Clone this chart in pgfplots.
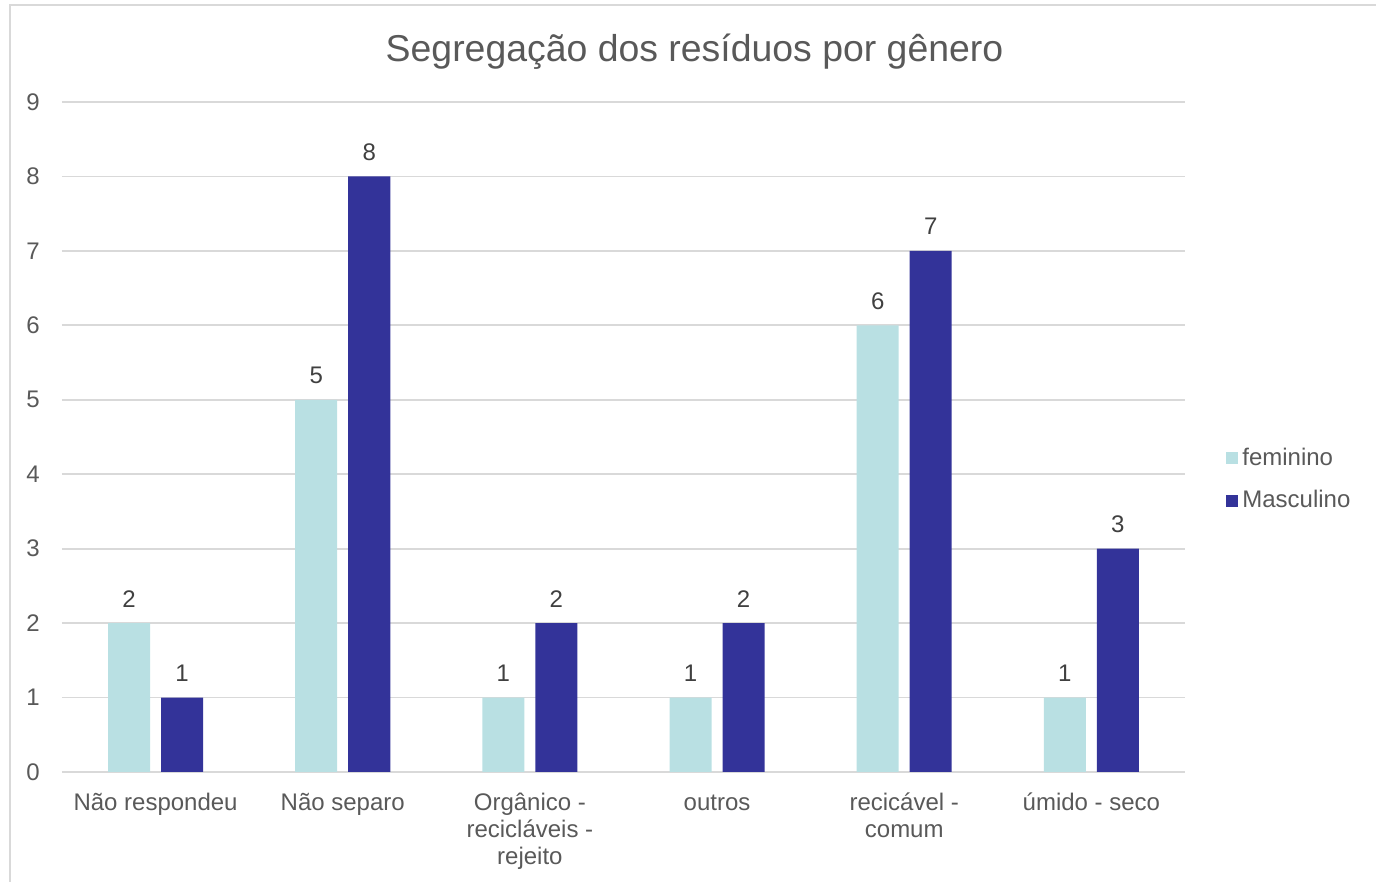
\documentclass[border=0pt]{standalone}
\usepackage{pgfplots}
\pgfplotsset{compat=1.18}
\usepackage{fontspec}
\setmainfont{Liberation Sans}
\definecolor{fem}{HTML}{B9E0E3}
\definecolor{mas}{HTML}{333399}
\definecolor{txt}{HTML}{595959}
\definecolor{lbl}{HTML}{404040}
\definecolor{grd}{HTML}{D9D9D9}
\begin{document}
\begin{tikzpicture}
\useasboundingbox (0pt,0pt) rectangle (688pt,441pt);
\draw[grd, line width=0.9pt] (5pt,-10pt) rectangle (700pt,438.5pt);
\node[anchor=base, text=txt, font=\fontsize{18.7}{22}\selectfont, inner sep=0pt] at (347.25pt,410pt) {Segregação dos resíduos por gênero};
\begin{axis}[
  at={(31pt,55pt)}, anchor=south west,
  scale only axis, width=561.5pt, height=335pt,
  ybar, bar width=21pt,
  xmin=-0.5, xmax=5.5, ymin=0, ymax=9,
  xtick={0,1,2,3,4,5},
  xticklabels={\strut Não respondeu, \strut Não separo, {\strut Orgânico -\\recicláveis -\\rejeito}, \strut outros, {\strut recicável -\\comum}, \strut úmido - seco},
  ytick={0,1,...,9},
  axis line style={draw=none},
  tick style={draw=none},
  ymajorgrids, grid style={grd, line width=0.9pt},
  /pgf/number format/assume math mode=true,
  ticklabel style={font=\fontsize{12}{13.5}\selectfont, text=txt},
  yticklabel style={anchor=east, inner sep=0pt, xshift=-11pt},
  xticklabel style={anchor=north, inner sep=0pt, yshift=-5.5pt, align=center},
  nodes near coords,
  every node near coord/.append style={font=\fontsize{12}{13.5}\selectfont, text=lbl, inner sep=0pt, anchor=south, yshift=7.8pt},
  legend style={at={(1.0365,0.4366)}, anchor=west, draw=none, fill=none, font=\fontsize{12}{13.5}\selectfont, text=txt, row sep=7pt, inner sep=0pt, cells={anchor=west}},
  clip=false,
]
\addplot[fill=fem, draw=none, bar shift=-13.25pt, legend image code/.code={\fill[fem] (0pt,-3pt) rectangle (6pt,3pt);}] coordinates {(0,2) (1,5) (2,1) (3,1) (4,6) (5,1)};
\addlegendentry{feminino}
\addplot[fill=mas, draw=none, bar shift=13.25pt, legend image code/.code={\fill[mas] (0pt,-3pt) rectangle (6pt,3pt);}] coordinates {(0,1) (1,8) (2,2) (3,2) (4,7) (5,3)};
\addlegendentry{Masculino}
\end{axis}
\end{tikzpicture}
\end{document}
